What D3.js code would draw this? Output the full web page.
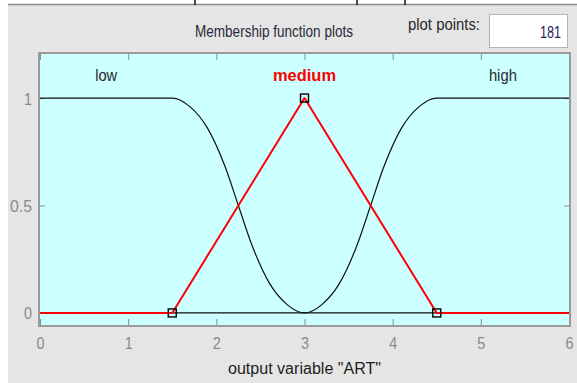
<!DOCTYPE html>
<html lang="en">

<head>
    <meta charset="UTF-8">
    <title>Membership function plots</title>
    <style>
        body {
            margin: 0;
            background: #ffffff;
        }

        text {
            font-family: "Liberation Sans", Arial, sans-serif;
        }
    </style>
</head>

<body>

    <!-- Load d3.js -->
    <script src="https://d3js.org/d3.v7.min.js"></script>

    <div id="my_dataviz"></div>
    <script>
        // values
        var xTicks = [0, 1, 2, 3, 4, 5, 6];
        var yTicks = [0, 0.5, 1];
        var yTickLabels = ["0", "0.5", "1"];

        var lowX = [0, 1.5, 1.7, 1.9, 2.1, 2.25, 2.4, 2.6, 2.8, 3, 6];
        var lowY = [1, 1, 0.96, 0.86, 0.68, 0.5, 0.32, 0.14, 0.04, 0, 0];
        var highX = [0, 3, 3.2, 3.4, 3.6, 3.75, 3.9, 4.1, 4.3, 4.5, 6];
        var highY = [0, 0, 0.04, 0.14, 0.32, 0.5, 0.68, 0.86, 0.96, 1, 1];
        var mediumX = [0, 1.5, 3, 4.5, 6];
        var mediumY = [0, 0, 1, 0, 0];
        var mediumVertexX = [1.5, 3, 4.5];
        var mediumVertexY = [0, 1, 0];

        var mfNames = ["low", "medium", "high"];
        var mfLabelX = [0.75, 3, 5.25];
        var mfLabelW = [22, 63, 28];
        var plotPoints = "181";

        var W = 577, H = 383;
        var margin = { top: 54, right: 8, bottom: 58, left: 40 },
            width = W - margin.left - margin.right,
            height = H - margin.top - margin.bottom;

        var root = d3.select("#my_dataviz")
            .append("svg")
            .attr("width", W)
            .attr("height", H);

        // window background
        root.append("rect").attr("x", 0).attr("y", 0).attr("width", W).attr("height", H).attr("fill", "#ffffff");
        root.append("rect").attr("x", 8).attr("y", 5).attr("width", W - 8).attr("height", H - 5).attr("fill", "#e5e5e5");
        root.append("line").attr("x1", 8).attr("x2", W).attr("y1", 4.5).attr("y2", 4.5)
            .attr("stroke", "#8c8c8c").attr("stroke-width", 1.5);
        [195, 357, 405].forEach(function (px) {
            root.append("line").attr("x1", px).attr("x2", px).attr("y1", 0).attr("y2", 5)
                .attr("stroke", "#111").attr("stroke-width", 1.5);
        });

        // header
        root.append("text")
            .attr("x", 274).attr("y", 37)
            .attr("text-anchor", "middle")
            .attr("font-size", 16)
            .attr("textLength", 158).attr("lengthAdjust", "spacingAndGlyphs")
            .attr("fill", "#2a2a3a")
            .text("Membership function plots");
        root.append("text")
            .attr("x", 444).attr("y", 30)
            .attr("text-anchor", "middle")
            .attr("font-size", 16)
            .attr("textLength", 72).attr("lengthAdjust", "spacingAndGlyphs")
            .attr("fill", "#2a2a2a")
            .text("plot points:");
        root.append("rect")
            .attr("x", 489.5).attr("y", 14.5).attr("width", 78).attr("height", 33)
            .attr("fill", "#ffffff").attr("stroke", "#b4b4b4").attr("stroke-width", 1);
        root.append("text")
            .attr("x", 561).attr("y", 38)
            .attr("text-anchor", "end")
            .attr("font-size", 16)
            .attr("textLength", 21).attr("lengthAdjust", "spacingAndGlyphs")
            .attr("fill", "#2a1a5a")
            .text(plotPoints);

        var svg = root.append("g")
            .attr("transform", "translate(" + margin.left + "," + margin.top + ")");

        var x = d3.scaleLinear().domain([0, 6]).range([0, width]);
        var y = d3.scaleLinear().domain([-0.056, 1.205]).range([height, 0]);

        svg.append("rect")
            .attr("width", width).attr("height", height)
            .attr("fill", "#ccffff");

        // ticks (inside, both sides)
        var tickCol = "#8c8c8c";
        svg.append("g")
            .attr("transform", "translate(0," + height + ")")
            .call(d3.axisBottom(x).tickValues(xTicks).tickSizeInner(-6).tickSizeOuter(0).tickPadding(12)
                .tickFormat(d3.format("d")))
            .call(function (g) {
                g.select(".domain").remove();
                g.selectAll("line").attr("stroke", tickCol);
                g.selectAll("text").attr("font-size", 17).attr("fill", "#8a8a8a")
                    .attr("textLength", 8).attr("lengthAdjust", "spacingAndGlyphs")
                    .attr("font-family", null);
            });
        svg.append("g")
            .call(d3.axisTop(x).tickValues(xTicks).tickSizeInner(-6).tickSizeOuter(0).tickFormat(""))
            .call(function (g) {
                g.select(".domain").remove();
                g.selectAll("line").attr("stroke", tickCol);
            });
        svg.append("g")
            .call(d3.axisLeft(y).tickValues(yTicks).tickSizeInner(-5).tickSizeOuter(0).tickPadding(8)
                .tickFormat(function (d, i) { return yTickLabels[i]; }))
            .call(function (g) {
                g.select(".domain").remove();
                g.selectAll("line").attr("stroke", tickCol);
                g.selectAll("text").attr("font-size", 17).attr("fill", "#8a8a8a")
                    .attr("textLength", function (d, i) { return yTickLabels[i].length > 1 ? 22 : 8; })
                    .attr("lengthAdjust", "spacingAndGlyphs")
                    .attr("font-family", null).attr("dy", "0.35em");
            });
        svg.append("g")
            .attr("transform", "translate(" + width + ",0)")
            .call(d3.axisRight(y).tickValues(yTicks).tickSizeInner(-5).tickSizeOuter(0).tickFormat(""))
            .call(function (g) {
                g.select(".domain").remove();
                g.selectAll("line").attr("stroke", tickCol);
            });

        var line = d3.line()
            .x(function (d) { return x(d[0]); })
            .y(function (d) { return y(d[1]); });

        // low and high (black, smooth)
        var smooth = d3.line()
            .x(function (d) { return x(d[0]); })
            .y(function (d) { return y(d[1]); })
            .curve(d3.curveMonotoneX);
        svg.append("path")
            .datum(d3.zip(lowX, lowY))
            .attr("fill", "none").attr("stroke", "#111").attr("stroke-width", 1.2)
            .attr("d", smooth);
        svg.append("path")
            .datum(d3.zip(highX, highY))
            .attr("fill", "none").attr("stroke", "#111").attr("stroke-width", 1.2)
            .attr("d", smooth);

        // medium (selected, red)
        svg.append("path")
            .datum(d3.zip(mediumX, mediumY))
            .attr("fill", "none").attr("stroke", "#ff0000").attr("stroke-width", 2)
            .attr("stroke-linejoin", "round")
            .attr("d", line);

        svg.selectAll(".vertex")
            .data(d3.zip(mediumVertexX, mediumVertexY))
            .enter()
            .append("rect")
            .attr("class", "vertex")
            .attr("x", function (d) { return x(d[0]) - 4; })
            .attr("y", function (d) { return y(d[1]) - 4; })
            .attr("width", 8).attr("height", 8)
            .attr("fill", "none").attr("stroke", "#000").attr("stroke-width", 1.4);

        // frame
        svg.append("rect")
            .attr("x", -1).attr("y", -1).attr("width", width + 2).attr("height", height + 2)
            .attr("fill", "none").attr("stroke", "#9a9a9a").attr("stroke-width", 2);

        // mf names
        svg.selectAll(".mfname")
            .data(mfNames)
            .enter()
            .append("text")
            .attr("class", "mfname")
            .attr("x", function (d, i) { return x(mfLabelX[i]); })
            .attr("y", 27)
            .attr("text-anchor", "middle")
            .attr("font-size", 16)
            .attr("textLength", function (d, i) { return mfLabelW[i]; })
            .attr("lengthAdjust", "spacingAndGlyphs")
            .attr("font-weight", function (d) { return d === "medium" ? "bold" : "normal"; })
            .attr("fill", function (d) { return d === "medium" ? "#ff0000" : "#2a2a2a"; })
            .text(function (d) { return d; });

        // x label
        root.append("text")
            .attr("x", margin.left + width / 2).attr("y", 374)
            .attr("text-anchor", "middle")
            .attr("font-size", 16)
            .attr("textLength", 153).attr("lengthAdjust", "spacingAndGlyphs")
            .attr("fill", "#1e1e1e")
            .text("output variable \"ART\"");
    </script>
</body>

</html>
